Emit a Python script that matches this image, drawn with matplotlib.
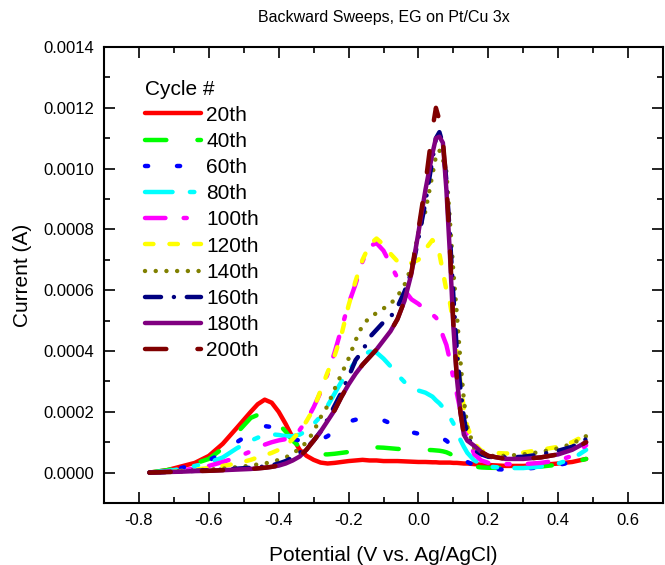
import numpy as np
import matplotlib.pyplot as plt
from matplotlib.ticker import MultipleLocator, FuncFormatter

plt.rcParams['font.family'] = ['Liberation Sans', 'DejaVu Sans']

# potential grid (V vs. Ag/AgCl), backward sweeps
potential = [-0.77, -0.72, -0.68, -0.64, -0.60, -0.56, -0.52, -0.48, -0.46, -0.44,
             -0.42, -0.40, -0.38, -0.36, -0.34, -0.32, -0.30, -0.28, -0.26, -0.24,
             -0.22, -0.20, -0.18, -0.16, -0.14, -0.12, -0.10, -0.08, -0.06, -0.04,
             -0.02, 0.00, 0.02, 0.04, 0.05, 0.06, 0.07, 0.08, 0.09, 0.10,
             0.11, 0.12, 0.13, 0.14, 0.16, 0.18, 0.20, 0.25, 0.30, 0.35,
             0.40, 0.44, 0.48]

# currents in units of 1e-4 A
c20 = [0.0, 0.08, 0.2, 0.32, 0.55, 0.95, 1.47, 2.0, 2.25, 2.4,
       2.3, 2.0, 1.6, 1.15, 0.75, 0.55, 0.42, 0.33, 0.3, 0.32,
       0.35, 0.38, 0.4, 0.42, 0.4, 0.4, 0.38, 0.38, 0.38, 0.37,
       0.36, 0.35, 0.35, 0.34, 0.34, 0.33, 0.33, 0.33, 0.33, 0.32,
       0.32, 0.31, 0.3, 0.3, 0.28, 0.26, 0.25, 0.22, 0.22, 0.25,
       0.3, 0.35, 0.45]
c40 = [0.0, 0.08, 0.18, 0.3, 0.45, 0.8, 1.3, 1.8, 1.9, 1.88,
       1.75, 1.6, 1.35, 1.05, 0.85, 0.7, 0.62, 0.6, 0.6, 0.62,
       0.65, 0.68, 0.72, 0.78, 0.82, 0.83, 0.82, 0.8, 0.78, 0.77,
       0.76, 0.75, 0.75, 0.74, 0.73, 0.72, 0.7, 0.67, 0.62, 0.55,
       0.47, 0.38, 0.3, 0.25, 0.2, 0.17, 0.16, 0.15, 0.16, 0.2,
       0.26, 0.33, 0.45]
c60 = [0.0, 0.06, 0.15, 0.25, 0.4, 0.65, 1.0, 1.3, 1.45, 1.53,
       1.5, 1.4, 1.25, 1.12, 1.05, 1.02, 1.03, 1.08, 1.2, 1.38,
       1.55, 1.68, 1.74, 1.75, 1.75, 1.74, 1.72, 1.62, 1.5, 1.42,
       1.33, 1.28, 1.24, 1.2, 1.18, 1.16, 1.12, 1.05, 0.95, 0.82,
       0.68, 0.55, 0.43, 0.35, 0.24, 0.16, 0.12, 0.1, 0.12, 0.18,
       0.25, 0.35, 0.55]
c80 = [0.0, 0.05, 0.12, 0.22, 0.33, 0.5, 0.8, 1.05, 1.15, 1.23,
       1.26, 1.24, 1.2, 1.2, 1.25, 1.38, 1.6, 1.85, 2.2, 2.6,
       3.0, 3.35, 3.65, 3.85, 3.98, 3.95, 3.75, 3.5, 3.22, 2.98,
       2.8, 2.7, 2.63, 2.5, 2.38, 2.28, 2.15, 2.0, 1.82, 1.62,
       1.35, 1.08, 0.85, 0.65, 0.4, 0.28, 0.2, 0.15, 0.15, 0.2,
       0.3, 0.45, 0.75]
c100 = [0.0, 0.03, 0.08, 0.13, 0.22, 0.35, 0.5, 0.7, 0.82, 0.92,
        1.0, 1.06, 1.1, 1.18, 1.4, 1.72, 2.15, 2.65, 3.25, 3.95,
        4.75, 5.55, 6.2, 6.95, 7.45, 7.55, 7.3, 6.85, 6.4, 6.0,
        5.7, 5.55, 5.35, 5.2, 5.1, 4.95, 4.5, 4.2, 3.7, 3.1,
        2.6, 2.05, 1.6, 1.2, 0.6, 0.4, 0.32, 0.28, 0.28, 0.32,
        0.4, 0.55, 0.9]
c120 = [0.0, 0.02, 0.05, 0.1, 0.15, 0.22, 0.3, 0.42, 0.5, 0.57,
        0.65, 0.75, 0.88, 1.1, 1.35, 1.7, 2.1, 2.7, 3.3, 3.85,
        4.55, 5.5, 6.3, 7.0, 7.5, 7.7, 7.5, 7.2, 6.95, 6.85,
        6.9, 7.0, 7.35, 7.65, 7.5, 7.2, 6.6, 6.0, 5.6, 4.9,
        4.0, 3.0, 2.1, 1.5, 0.95, 0.72, 0.66, 0.63, 0.66, 0.75,
        0.85, 1.0, 1.25]
c140 = [0.0, 0.02, 0.04, 0.07, 0.1, 0.13, 0.18, 0.23, 0.27, 0.3,
        0.35, 0.42, 0.5, 0.62, 0.8, 1.0, 1.35, 1.82, 2.2, 2.75,
        3.25, 3.75, 4.35, 4.85, 5.1, 5.25, 5.4, 5.55, 5.8, 6.17,
        6.77, 7.9, 8.6, 9.8, 10.4, 10.6, 10.3, 9.9, 8.3, 6.6,
        5.2, 3.7, 2.4, 1.5, 0.8, 0.6, 0.55, 0.55, 0.6, 0.68,
        0.8, 0.95, 1.2]
c160 = [0.0, 0.02, 0.04, 0.06, 0.08, 0.1, 0.13, 0.16, 0.18, 0.2,
        0.24, 0.3, 0.38, 0.5, 0.65, 0.82, 1.05, 1.35, 1.75, 2.2,
        2.65, 3.15, 3.7, 4.0, 4.45, 4.7, 4.95, 5.12, 5.45, 5.95,
        6.6, 7.7, 8.9, 10.3, 11.0, 11.2, 10.8, 9.6, 7.8, 5.8,
        4.0, 2.8, 1.8, 1.2, 0.75, 0.6, 0.52, 0.5, 0.52, 0.6,
        0.72, 0.85, 1.1]
c180 = [0.0, 0.02, 0.03, 0.05, 0.06, 0.08, 0.1, 0.12, 0.14, 0.16,
        0.19, 0.23, 0.3, 0.4, 0.53, 0.76, 1.05, 1.35, 1.7, 2.05,
        2.5, 2.9, 3.25, 3.55, 3.8, 4.05, 4.35, 4.65, 5.05, 5.65,
        6.55, 7.9, 9.3, 10.5, 11.0, 11.05, 10.85, 9.3, 7.2, 4.8,
        3.1, 2.0, 1.25, 1.05, 0.88, 0.68, 0.55, 0.45, 0.45, 0.5,
        0.6, 0.75, 1.0]
c200 = [0.0, 0.02, 0.03, 0.05, 0.06, 0.08, 0.1, 0.12, 0.14, 0.16,
        0.19, 0.23, 0.3, 0.4, 0.53, 0.76, 1.05, 1.35, 1.7, 2.05,
        2.5, 2.9, 3.25, 3.55, 3.8, 4.05, 4.35, 4.65, 5.05, 5.65,
        6.6, 8.0, 9.5, 11.3, 12.0, 11.6, 10.9, 9.6, 7.4, 4.9,
        3.1, 2.0, 1.25, 1.05, 0.88, 0.68, 0.55, 0.45, 0.45, 0.5,
        0.6, 0.75, 1.0]

labels = ["20th", "40th", "60th", "80th", "100th", "120th", "140th", "160th", "180th", "200th"]
colors = ["#ff0000", "#00ff00", "#0000ff", "#00ffff", "#ff00ff",
          "#ffff00", "#808000", "#000080", "#800080", "#800000"]
dashes = [None, (4.8, 7), (0.7, 6.5), (6.2, 3.9, 1, 3.9), (4.6, 4.1, 0.7, 4.1),
          (1.9, 3.6), (0.01, 2.4), (3.6, 2.9, 0.01, 2.9), None, (4.8, 7)]
series = [c20, c40, c60, c80, c100, c120, c140, c160, c180, c200]

fig = plt.figure(figsize=(6.65, 5.65), dpi=100)
ax = fig.add_axes([0.1564, 0.1097, 0.8406, 0.8071])

v = np.array(potential)
for cur, lab, col, ds in zip(series, labels, colors, dashes):
    line, = ax.plot(v, np.array(cur) * 1e-4, color=col, lw=3.2, label=lab,
                    solid_capstyle='round', dash_capstyle='round')
    if ds is not None:
        line.set_dashes(ds)

ax.set_xlim(-0.9, 0.7)
ax.set_ylim(-0.0001, 0.0014)
ax.xaxis.set_major_locator(MultipleLocator(0.2))
ax.xaxis.set_minor_locator(MultipleLocator(0.1))
ax.yaxis.set_major_locator(MultipleLocator(0.0002))
ax.yaxis.set_minor_locator(MultipleLocator(0.0001))
ax.xaxis.set_major_formatter(FuncFormatter(lambda x, p: "%.1f" % x))
ax.yaxis.set_major_formatter(FuncFormatter(lambda y, p: "%.4f" % y))
ax.tick_params(which='both', direction='in', top=True, right=True, width=1.2, labelsize=12)
ax.tick_params(which='major', length=8, pad=7)
ax.tick_params(which='minor', length=4)
for s in ax.spines.values():
    s.set_linewidth(1.5)

ax.set_xlabel("Potential (V vs. Ag/AgCl)", fontsize=15, labelpad=13)
ax.set_ylabel("Current (A)", fontsize=15, labelpad=8)
ax.set_title("Backward Sweeps, EG on Pt/Cu 3x", fontsize=11.5, pad=18)

leg = ax.legend(loc='upper left', bbox_to_anchor=(0.058, 0.947), frameon=False,
                title="Cycle #", fontsize=15, title_fontsize=15, handlelength=2.7,
                handletextpad=0.24, labelspacing=0.345, alignment='left', borderaxespad=0)

fig.savefig("out.png", dpi=100)
